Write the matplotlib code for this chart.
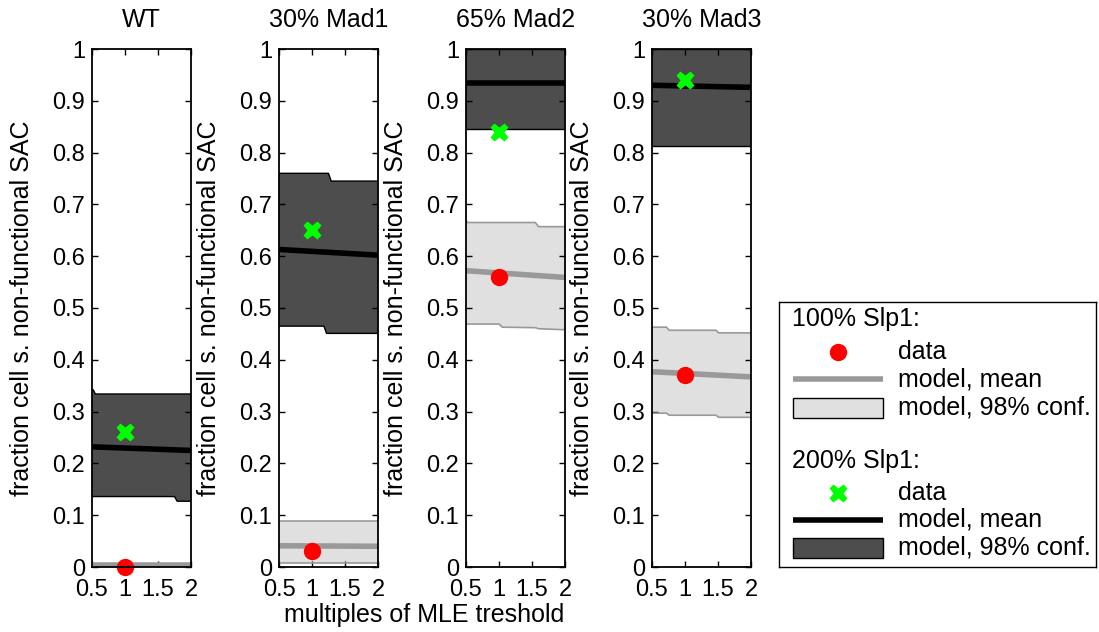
import matplotlib
matplotlib.use("Agg")
import matplotlib.pyplot as plt
from matplotlib.patches import Rectangle

plt.rcParams["font.family"] = ["Liberation Sans", "DejaVu Sans"]

# ---- data -------------------------------------------------------------
titles = ["WT", "30% Mad1", "65% Mad2", "30% Mad3"]
x_data = 1.0

# 100% Slp1: measured fraction, model mean (left/right end) and 98% band
data_100 = [0.0, 0.03, 0.56, 0.37]
mean_100 = [(0.003, 0.003), (0.041, 0.040), (0.572, 0.559), (0.377, 0.367)]
band_100_x = [
    [0.5, 2.0],
    [0.5, 2.0],
    [0.5, 0.52, 1.0, 1.05, 1.55, 1.6, 2.0],
    [0.5, 0.72, 0.76, 1.47, 1.51, 2.0],
]
band_100_hi = [
    [0.006, 0.006],
    [0.089, 0.089],
    [0.670, 0.665, 0.665, 0.665, 0.665, 0.657, 0.657],
    [0.463, 0.463, 0.457, 0.457, 0.452, 0.452],
]
band_100_lo = [
    [0.0, 0.0],
    [0.007, 0.007],
    [0.469, 0.469, 0.469, 0.463, 0.462, 0.460, 0.458],
    [0.297, 0.297, 0.293, 0.293, 0.289, 0.289],
]

# 200% Slp1
data_200 = [0.26, 0.65, 0.84, 0.94]
mean_200 = [(0.232, 0.225), (0.613, 0.602), (0.935, 0.935), (0.930, 0.926)]
band_200_x = [
    [0.5, 0.52, 0.55, 1.75, 1.79, 2.0],
    [0.5, 1.18, 1.22, 1.25, 1.29, 2.0],
    [0.5, 2.0],
    [0.5, 2.0],
]
band_200_hi = [
    [0.342, 0.342, 0.334, 0.334, 0.334, 0.334],
    [0.760, 0.760, 0.760, 0.760, 0.745, 0.745],
    [1.0, 1.0],
    [1.0, 1.0],
]
band_200_lo = [
    [0.136, 0.136, 0.136, 0.136, 0.127, 0.127],
    [0.465, 0.465, 0.451, 0.451, 0.451, 0.451],
    [0.845, 0.845],
    [0.812, 0.812],
]

x_ticks = [0.5, 1, 1.5, 2]
x_ticklabels = ["0.5", "1", "1.5", "2"]
y_ticks = [0, 0.1, 0.2, 0.3, 0.4, 0.5, 0.6, 0.7, 0.8, 0.9, 1]
y_ticklabels = ["0", "0.1", "0.2", "0.3", "0.4", "0.5", "0.6", "0.7", "0.8", "0.9", "1"]

# ---- styling ----------------------------------------------------------
LIGHT = "#e0e0e0"
LIGHT_EDGE = "#999999"
DARK = "#4d4d4d"
GREY_LINE = "#999999"
RED = "#ff0000"
GREEN = "#00ff00"
FS_TICK = 17
FS = 18

W, H = 1099, 632
fig = plt.figure(figsize=(W / 100, H / 100), dpi=100)

lefts_px = [92, 279, 466, 652]
ax_w, ax_top, ax_bot = 99, 49, 567

for i in range(4):
    ax = fig.add_axes([lefts_px[i] / W, 1 - ax_bot / H, ax_w / W, (ax_bot - ax_top) / H])
    # 200% Slp1 band and mean
    ax.fill_between(band_200_x[i], band_200_lo[i], band_200_hi[i],
                    facecolor=DARK, edgecolor="none", zorder=1)
    ax.plot(band_200_x[i], band_200_hi[i], color="black", lw=1.0, zorder=2)
    ax.plot(band_200_x[i], band_200_lo[i], color="black", lw=1.0, zorder=2)
    # 100% Slp1 band and mean
    ax.fill_between(band_100_x[i], band_100_lo[i], band_100_hi[i],
                    facecolor=LIGHT, edgecolor="none", zorder=1)
    ax.plot(band_100_x[i], band_100_hi[i], color=LIGHT_EDGE, lw=1.2, zorder=2)
    ax.plot(band_100_x[i], band_100_lo[i], color=LIGHT_EDGE, lw=1.2, zorder=2)
    ax.plot([0.5, 2.0], mean_100[i], color=GREY_LINE, lw=4, zorder=3,
            solid_capstyle="butt")
    ax.plot([0.5, 2.0], mean_200[i], color="black", lw=4, zorder=3,
            solid_capstyle="butt")
    # data points
    ax.plot([x_data], [data_100[i]], "o", color=RED, ms=12.5, mec="none",
            zorder=5, clip_on=False)
    ax.plot([x_data], [data_200[i]], "X", color=GREEN, ms=13, mec="none",
            zorder=5, clip_on=False)

    ax.set_xlim(0.5, 2)
    ax.set_ylim(0, 1)
    ax.set_xticks(x_ticks)
    ax.set_xticklabels(x_ticklabels)
    ax.set_yticks(y_ticks)
    ax.set_yticklabels(y_ticklabels)
    ax.tick_params(direction="in", length=4, width=1, labelsize=FS_TICK,
                   top=True, right=True)
    ax.tick_params(axis="x", pad=9)
    ax.tick_params(axis="y", pad=5)
    for sp in ax.spines.values():
        sp.set_linewidth(1.3)
        sp.set_zorder(6)
    ax.set_title(titles[i], fontsize=FS, pad=16)
    ax.set_ylabel("fraction cell s. non-functional SAC", fontsize=FS)
    ax.yaxis.set_label_coords(-0.59, 0.5)

# shared x label, centred under the two middle panels
fig.text(424 / W, 1 - 615 / H, "multiples of MLE treshold", fontsize=FS,
         ha="center", va="center")

# ---- legend box -------------------------------------------------------
lx0, ly0, lx1, ly1 = 779, 302, 1096, 567
lax = fig.add_axes([lx0 / W, 1 - ly1 / H, (lx1 - lx0) / W, (ly1 - ly0) / H])
lax.set_xlim(lx0, lx1)
lax.set_ylim(ly1, ly0)
lax.set_xticks([])
lax.set_yticks([])
for sp in lax.spines.values():
    sp.set_linewidth(1.0)

hx0, hx1, tx = 793, 883, 898
rows = [
    ("header", "100% Slp1:", 319),
    ("dot", "data", 352),
    ("grey", "model, mean", 379),
    ("light", "model, 98% conf.", 408),
    ("header", "200% Slp1:", 461),
    ("x", "data", 493),
    ("black", "model, mean", 520),
    ("dark", "model, 98% conf.", 548),
]
for kind, label, y in rows:
    if kind == "header":
        lax.text(792, y, label, fontsize=FS, va="center", ha="left")
        continue
    if kind == "dot":
        lax.plot([(hx0 + hx1) / 2], [y], "o", color=RED, ms=12.5, mec="none")
    elif kind == "x":
        lax.plot([(hx0 + hx1) / 2], [y], "X", color=GREEN, ms=13, mec="none")
    elif kind == "grey":
        lax.plot([hx0, hx1], [y, y], color=GREY_LINE, lw=4, solid_capstyle="butt")
    elif kind == "black":
        lax.plot([hx0, hx1], [y, y], color="black", lw=4, solid_capstyle="butt")
    elif kind in ("light", "dark"):
        lax.add_patch(Rectangle((hx0, y - 10), hx1 - hx0, 20,
                                facecolor=LIGHT if kind == "light" else DARK,
                                edgecolor="black", lw=1.0))
    lax.text(tx, y, label, fontsize=FS, va="center", ha="left")

fig.savefig("out.png", dpi=100)
